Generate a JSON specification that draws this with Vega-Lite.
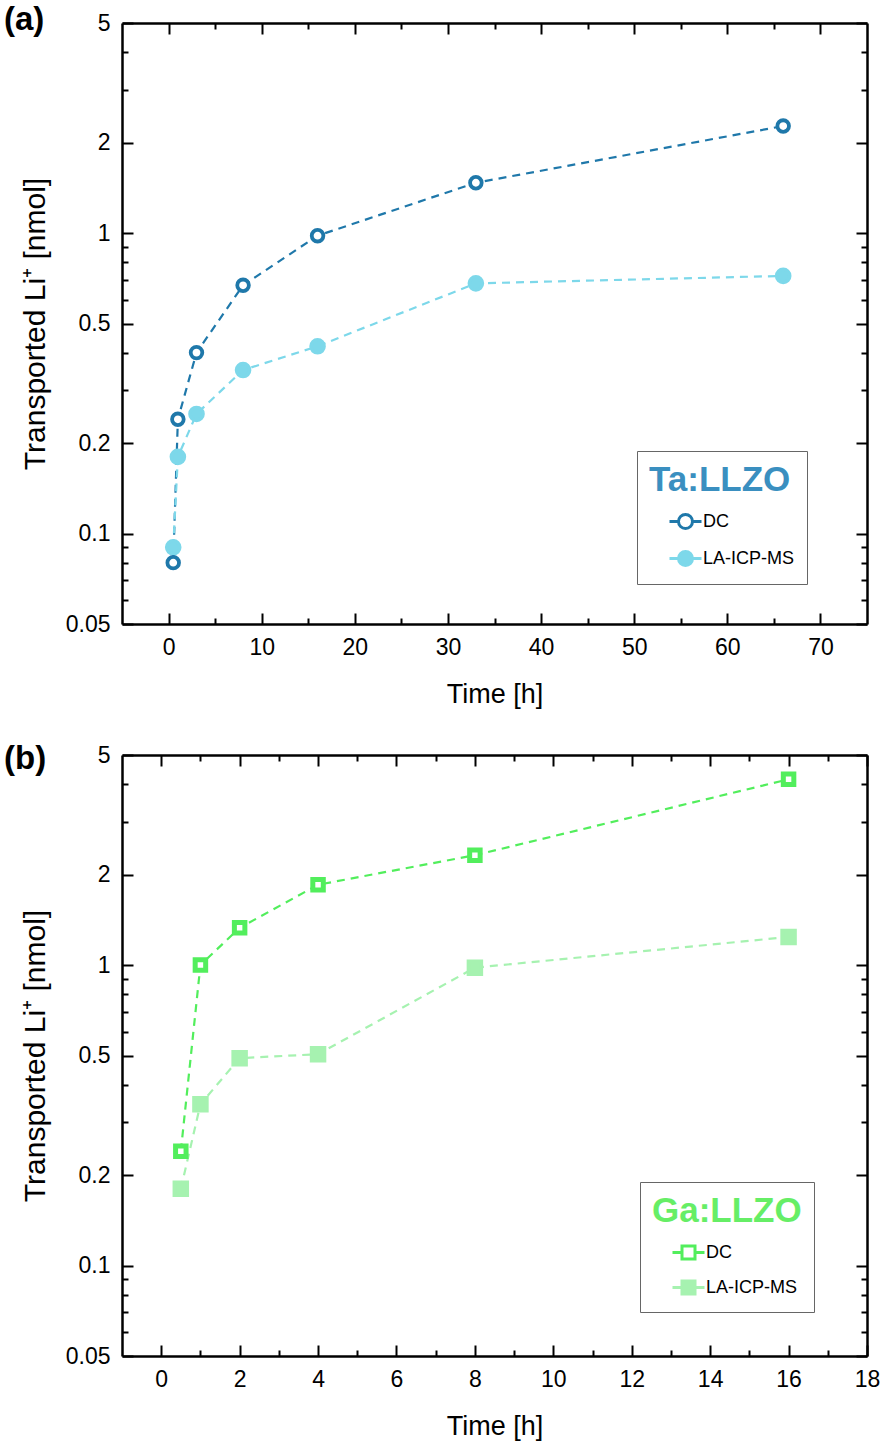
{
  "$schema": "https://vega.github.io/schema/vega-lite/v6.json",
  "padding": {"left": 4, "top": 4, "right": 4, "bottom": 4},
  "spacing": 36,
  "resolve": {"scale": {"stroke": "independent", "fill": "independent"}, "legend": {"stroke": "independent", "fill": "independent"}},
  "datasets": {
    "ta": [
      {"series": "LA-ICP-MS", "time": 0.5, "value": 0.09},
      {"series": "LA-ICP-MS", "time": 1, "value": 0.18},
      {"series": "LA-ICP-MS", "time": 3, "value": 0.25},
      {"series": "LA-ICP-MS", "time": 8, "value": 0.35},
      {"series": "LA-ICP-MS", "time": 16, "value": 0.42},
      {"series": "LA-ICP-MS", "time": 33, "value": 0.68},
      {"series": "LA-ICP-MS", "time": 66, "value": 0.72},
      {"series": "DC", "time": 0.5, "value": 0.08},
      {"series": "DC", "time": 1, "value": 0.24},
      {"series": "DC", "time": 3, "value": 0.40},
      {"series": "DC", "time": 8, "value": 0.67},
      {"series": "DC", "time": 16, "value": 0.98},
      {"series": "DC", "time": 33, "value": 1.47},
      {"series": "DC", "time": 66, "value": 2.27}
    ],
    "ga": [
      {"series": "LA-ICP-MS", "time": 0.5, "value": 0.18},
      {"series": "LA-ICP-MS", "time": 1, "value": 0.344},
      {"series": "LA-ICP-MS", "time": 2, "value": 0.49},
      {"series": "LA-ICP-MS", "time": 4, "value": 0.505},
      {"series": "LA-ICP-MS", "time": 8, "value": 0.98},
      {"series": "LA-ICP-MS", "time": 16, "value": 1.24},
      {"series": "DC", "time": 0.5, "value": 0.24},
      {"series": "DC", "time": 1, "value": 1.0},
      {"series": "DC", "time": 2, "value": 1.33},
      {"series": "DC", "time": 4, "value": 1.85},
      {"series": "DC", "time": 8, "value": 2.32},
      {"series": "DC", "time": 16, "value": 4.15}
    ]
  },
  "vconcat": [
    {
      "data": {"name": "ta"},
      "width": 745,
      "height": 601,
      "title": {"text": "(a)", "anchor": "start", "frame": "group", "dx": -118, "baseline": "middle", "offset": 0, "dy": 41},
      "resolve": {"axis": {"x": "independent", "y": "independent"}},
      "layer": [
        {
          "transform": [{"filter": "datum.series === 'DC'"}],
          "mark": {"type": "line", "color": "#1f78aa", "strokeWidth": 2.2, "strokeDash": [8, 6]},
          "encoding": {
            "x": {"field": "time", "type": "quantitative", "scale": {"domain": [-5, 75], "nice": false, "zero": false},
              "axis": {"orient": "bottom", "values": [0, 10, 20, 30, 40, 50, 60, 70], "ticks": false, "labelPadding": 12, "title": "Time [h]", "titlePadding": 22}},
            "y": {"field": "value", "type": "quantitative", "scale": {"type": "log", "domain": [0.05, 5], "nice": false},
              "axis": {"orient": "left", "values": [0.05, 0.1, 0.2, 0.5, 1, 2, 5], "format": "~g", "ticks": false, "labelPadding": 12, "title": "Transported Li⁺ [nmol]", "titlePadding": 15, "titleFontSize": 30}}
          }
        },
        {
          "transform": [{"filter": "datum.series === 'LA-ICP-MS'"}],
          "mark": {"type": "line", "color": "#7dd8ea", "strokeWidth": 2.2, "strokeDash": [8, 6]},
          "encoding": {
            "x": {"field": "time", "type": "quantitative", "scale": {"domain": [-5, 75], "nice": false, "zero": false},
              "axis": {"orient": "top", "values": [0, 10, 20, 30, 40, 50, 60, 70], "labels": false, "tickSize": -11, "title": null}},
            "y": {"field": "value", "type": "quantitative", "scale": {"type": "log", "domain": [0.05, 5], "nice": false},
              "axis": {"orient": "right", "values": [0.05, 0.1, 0.2, 0.5, 1, 2, 5], "labels": false, "tickSize": -11, "title": null}}
          }
        },
        {
          "transform": [{"filter": "datum.series === 'LA-ICP-MS'"}],
          "mark": {"type": "point", "shape": "circle", "filled": false, "opacity": 1, "strokeWidth": 3.5, "size": 172},
          "encoding": {
            "x": {"field": "time", "type": "quantitative", "scale": {"domain": [-5, 75], "nice": false, "zero": false},
              "axis": {"orient": "bottom", "values": [0, 10, 20, 30, 40, 50, 60, 70], "labels": false, "domain": false, "tickSize": -11, "title": null}},
            "y": {"field": "value", "type": "quantitative", "scale": {"type": "log", "domain": [0.05, 5], "nice": false},
              "axis": {"orient": "left", "values": [0.05, 0.1, 0.2, 0.5, 1, 2, 5], "labels": false, "domain": false, "tickSize": -11, "title": null}},
            "stroke": {"field": "series", "type": "nominal", "scale": {"domain": ["DC", "LA-ICP-MS"], "range": ["#1f78aa", "#7dd8ea"]},
              "legend": {"orient": "none", "legendX": 515, "legendY": 428, "title": "Ta:LLZO", "titleColor": "#3a8fc0",
                "symbolType": "M-1.6,0L-0.7,0M0.7,0L1.6,0M0.7,0A0.7,0.7 0 1,1 -0.7,0A0.7,0.7 0 1,1 0.7,0Z"}},
            "fill": {"field": "series", "type": "nominal", "scale": {"domain": ["DC", "LA-ICP-MS"], "range": ["#ffffff", "#7dd8ea"]},
              "legend": {"orient": "none", "legendX": 515, "legendY": 428, "title": "Ta:LLZO", "titleColor": "#3a8fc0",
                "symbolType": "M-1.6,0L-0.7,0M0.7,0L1.6,0M0.7,0A0.7,0.7 0 1,1 -0.7,0A0.7,0.7 0 1,1 0.7,0Z"}}
          }
        },
        {
          "transform": [{"filter": "datum.series === 'DC'"}],
          "mark": {"type": "point", "shape": "circle", "filled": false, "opacity": 1, "strokeWidth": 3.8, "size": 135},
          "encoding": {
            "x": {"field": "time", "type": "quantitative", "scale": {"domain": [-5, 75], "nice": false, "zero": false}, "axis": null},
            "y": {"field": "value", "type": "quantitative", "scale": {"type": "log", "domain": [0.05, 5], "nice": false}, "axis": null},
            "stroke": {"field": "series", "type": "nominal"},
            "fill": {"field": "series", "type": "nominal"}
          }
        },
        {
          "mark": {"type": "point", "opacity": 0},
          "encoding": {
            "x": {"field": "time", "type": "quantitative", "scale": {"domain": [-5, 75], "nice": false, "zero": false},
              "axis": {"orient": "bottom", "values": [5, 15, 25, 35, 45, 55, 65], "labels": false, "domain": false, "tickSize": -6, "title": null}},
            "y": {"field": "value", "type": "quantitative", "scale": {"type": "log", "domain": [0.05, 5], "nice": false},
              "axis": {"orient": "left", "values": [0.06, 0.07, 0.08, 0.09, 0.3, 0.4, 0.6, 0.7, 0.8, 0.9, 3, 4], "labels": false, "domain": false, "tickSize": -6, "title": null}}
          }
        },
        {
          "mark": {"type": "point", "opacity": 0},
          "encoding": {
            "x": {"field": "time", "type": "quantitative", "scale": {"domain": [-5, 75], "nice": false, "zero": false},
              "axis": {"orient": "top", "values": [5, 15, 25, 35, 45, 55, 65], "labels": false, "domain": false, "tickSize": -6, "title": null}},
            "y": {"field": "value", "type": "quantitative", "scale": {"type": "log", "domain": [0.05, 5], "nice": false},
              "axis": {"orient": "right", "values": [0.06, 0.07, 0.08, 0.09, 0.3, 0.4, 0.6, 0.7, 0.8, 0.9, 3, 4], "labels": false, "domain": false, "tickSize": -6, "title": null}}
          }
        }
      ]
    },
    {
      "data": {"name": "ga"},
      "width": 745,
      "height": 601,
      "title": {"text": "(b)", "anchor": "start", "frame": "group", "dx": -118, "baseline": "middle", "offset": 0, "dy": 48},
      "resolve": {"axis": {"x": "independent", "y": "independent"}},
      "layer": [
        {
          "transform": [{"filter": "datum.series === 'DC'"}],
          "mark": {"type": "line", "color": "#52ee5c", "strokeWidth": 2.2, "strokeDash": [8, 6]},
          "encoding": {
            "x": {"field": "time", "type": "quantitative", "scale": {"domain": [-1, 18], "nice": false, "zero": false},
              "axis": {"orient": "bottom", "values": [0, 2, 4, 6, 8, 10, 12, 14, 16, 18], "ticks": false, "labelPadding": 12, "title": "Time [h]", "titlePadding": 22}},
            "y": {"field": "value", "type": "quantitative", "scale": {"type": "log", "domain": [0.05, 5], "nice": false},
              "axis": {"orient": "left", "values": [0.05, 0.1, 0.2, 0.5, 1, 2, 5], "format": "~g", "ticks": false, "labelPadding": 12, "title": "Transported Li⁺ [nmol]", "titlePadding": 15, "titleFontSize": 30}}
          }
        },
        {
          "transform": [{"filter": "datum.series === 'LA-ICP-MS'"}],
          "mark": {"type": "line", "color": "#a6f2b0", "strokeWidth": 2.2, "strokeDash": [8, 6]},
          "encoding": {
            "x": {"field": "time", "type": "quantitative", "scale": {"domain": [-1, 18], "nice": false, "zero": false},
              "axis": {"orient": "top", "values": [0, 2, 4, 6, 8, 10, 12, 14, 16, 18], "labels": false, "tickSize": -11, "title": null}},
            "y": {"field": "value", "type": "quantitative", "scale": {"type": "log", "domain": [0.05, 5], "nice": false},
              "axis": {"orient": "right", "values": [0.05, 0.1, 0.2, 0.5, 1, 2, 5], "labels": false, "tickSize": -11, "title": null}}
          }
        },
        {
          "transform": [{"filter": "datum.series === 'LA-ICP-MS'"}],
          "mark": {"type": "point", "shape": "square", "filled": false, "opacity": 1, "strokeWidth": 4, "size": 156},
          "encoding": {
            "x": {"field": "time", "type": "quantitative", "scale": {"domain": [-1, 18], "nice": false, "zero": false},
              "axis": {"orient": "bottom", "values": [0, 2, 4, 6, 8, 10, 12, 14, 16, 18], "labels": false, "domain": false, "tickSize": -11, "title": null}},
            "y": {"field": "value", "type": "quantitative", "scale": {"type": "log", "domain": [0.05, 5], "nice": false},
              "axis": {"orient": "left", "values": [0.05, 0.1, 0.2, 0.5, 1, 2, 5], "labels": false, "domain": false, "tickSize": -11, "title": null}},
            "stroke": {"field": "series", "type": "nominal", "scale": {"domain": ["DC", "LA-ICP-MS"], "range": ["#52ee5c", "#a6f2b0"]},
              "legend": {"orient": "none", "legendX": 518, "legendY": 427, "title": "Ga:LLZO", "titleColor": "#66ee66",
                "symbolType": "M-1.6,0L-0.65,0M0.65,0L1.6,0M-0.65,-0.65H0.65V0.65H-0.65Z"}},
            "fill": {"field": "series", "type": "nominal", "scale": {"domain": ["DC", "LA-ICP-MS"], "range": ["#ffffff", "#a6f2b0"]},
              "legend": {"orient": "none", "legendX": 518, "legendY": 427, "title": "Ga:LLZO", "titleColor": "#66ee66",
                "symbolType": "M-1.6,0L-0.65,0M0.65,0L1.6,0M-0.65,-0.65H0.65V0.65H-0.65Z"}}
          }
        },
        {
          "transform": [{"filter": "datum.series === 'DC'"}],
          "mark": {"type": "point", "shape": "square", "filled": false, "opacity": 1, "strokeWidth": 5, "size": 110},
          "encoding": {
            "x": {"field": "time", "type": "quantitative", "scale": {"domain": [-1, 18], "nice": false, "zero": false}, "axis": null},
            "y": {"field": "value", "type": "quantitative", "scale": {"type": "log", "domain": [0.05, 5], "nice": false}, "axis": null},
            "stroke": {"field": "series", "type": "nominal"},
            "fill": {"field": "series", "type": "nominal"}
          }
        },
        {
          "mark": {"type": "point", "opacity": 0},
          "encoding": {
            "x": {"field": "time", "type": "quantitative", "scale": {"domain": [-1, 18], "nice": false, "zero": false},
              "axis": {"orient": "bottom", "values": [1, 3, 5, 7, 9, 11, 13, 15, 17], "labels": false, "domain": false, "tickSize": -6, "title": null}},
            "y": {"field": "value", "type": "quantitative", "scale": {"type": "log", "domain": [0.05, 5], "nice": false},
              "axis": {"orient": "left", "values": [0.06, 0.07, 0.08, 0.09, 0.3, 0.4, 0.6, 0.7, 0.8, 0.9, 3, 4], "labels": false, "domain": false, "tickSize": -6, "title": null}}
          }
        },
        {
          "mark": {"type": "point", "opacity": 0},
          "encoding": {
            "x": {"field": "time", "type": "quantitative", "scale": {"domain": [-1, 18], "nice": false, "zero": false},
              "axis": {"orient": "top", "values": [1, 3, 5, 7, 9, 11, 13, 15, 17], "labels": false, "domain": false, "tickSize": -6, "title": null}},
            "y": {"field": "value", "type": "quantitative", "scale": {"type": "log", "domain": [0.05, 5], "nice": false},
              "axis": {"orient": "right", "values": [0.06, 0.07, 0.08, 0.09, 0.3, 0.4, 0.6, 0.7, 0.8, 0.9, 3, 4], "labels": false, "domain": false, "tickSize": -6, "title": null}}
          }
        }
      ]
    }
  ],
  "config": {
    "view": {"stroke": null},
    "font": "Liberation Sans",
    "axis": {"domainColor": "black", "domainWidth": 2.5, "tickColor": "black", "tickWidth": 2, "grid": false,
      "labelFont": "Liberation Sans", "labelFontSize": 23, "labelColor": "black", "labelFlush": false, "labelOverlap": false, "labelBound": false,
      "titleFont": "Liberation Sans", "titleFontSize": 27, "titleFontWeight": "normal", "titleColor": "black"},
    "legend": {"labelFont": "Liberation Sans", "labelFontSize": 18, "labelColor": "black", "labelOffset": 6,
      "titleFont": "Liberation Sans", "titleFontSize": 35, "titleFontWeight": "bold", "titlePadding": 12,
      "symbolSize": 400, "symbolStrokeWidth": 3, "symbolOffset": 25, "rowPadding": 10, "padding": 12,
      "strokeColor": "#666666", "fillColor": "white"},
    "title": {"font": "Liberation Sans", "fontSize": 33, "fontWeight": "bold", "color": "black"}
  }
}
